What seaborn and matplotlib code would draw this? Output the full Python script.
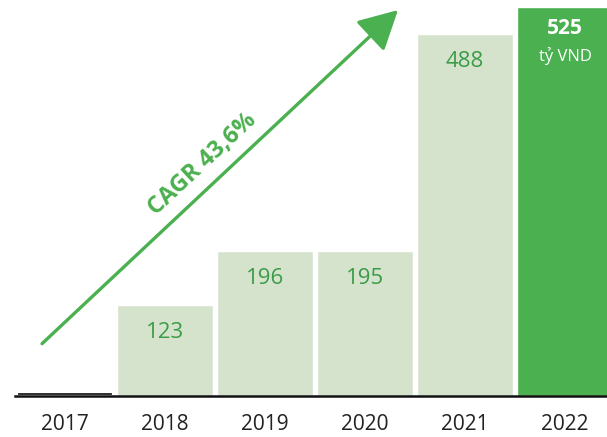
import pandas as pd
import numpy as np
import matplotlib
matplotlib.use("Agg")
import matplotlib.pyplot as plt
import seaborn as sns
from matplotlib.patches import FancyArrowPatch

years = ["2017", "2018", "2019", "2020", "2021", "2022"]
values = [5, 123, 196, 195, 488, 525]
labels = ["", "123", "196", "195", "488", "525"]
bar_colors = ["#1a1a1a", "#d5e3cd", "#d5e3cd", "#d5e3cd", "#d5e3cd", "#4bb04f"]
cagr_text = "CAGR 43,6%"
unit_text = "tỷ VND"

sns.set_style("white")
plt.rcParams['font.family'] = ['Open Sans', 'DejaVu Sans']

df = pd.DataFrame({"year": years, "value": values})

fig = plt.figure(figsize=(6.07, 4.37), dpi=100)
ax = fig.add_axes([15/607, 41/437, 592/607, 396/437])

sns.barplot(data=df, x="year", y="value", hue="year", palette=bar_colors,
            width=0.96, legend=False, ax=ax, saturation=1)
# thin dark 2017 bar sits slightly above the axis line
ax.patches[0].set_edgecolor("white")
ax.patches[0].set_linewidth(1.6)

ax.set_xlim(-0.5, 5.42)
ax.set_ylim(0, 534)
ax.set_xlabel("")
ax.set_ylabel("")
ax.set_yticks([])
ax.tick_params(axis="x", length=0, labelsize=15, labelcolor="#222222", pad=13)
for s in ["top", "right", "left"]:
    ax.spines[s].set_visible(False)
ax.spines["bottom"].set_linewidth(1.8)
ax.spines["bottom"].set_color("#111111")

green_txt = "#3a9c46"
for i, (v, lab) in enumerate(zip(values, labels)):
    if not lab:
        continue
    if i == len(values) - 1:
        ax.text(i, v - 30, lab, ha="center", va="center", fontsize=15,
                fontweight="bold", color="white")
        ax.text(i, v - 66, unit_text, ha="center", va="center", fontsize=12,
                color="white")
    else:
        ax.text(i, v - 37, lab, ha="center", va="center", fontsize=16,
                color=green_txt)

# CAGR arrow
arrow = FancyArrowPatch((-0.25, 68), (3.35, 523), arrowstyle="-|>,head_length=15,head_width=8",
                        color="#4bb04f", lw=2.4, mutation_scale=1.6)
ax.add_patch(arrow)
ax.text(1.37, 312, cagr_text, rotation=43, ha="center", va="center",
        fontsize=17, fontweight="bold", color="#4bb04f", rotation_mode="anchor")

fig.savefig("out.png", dpi=100)
